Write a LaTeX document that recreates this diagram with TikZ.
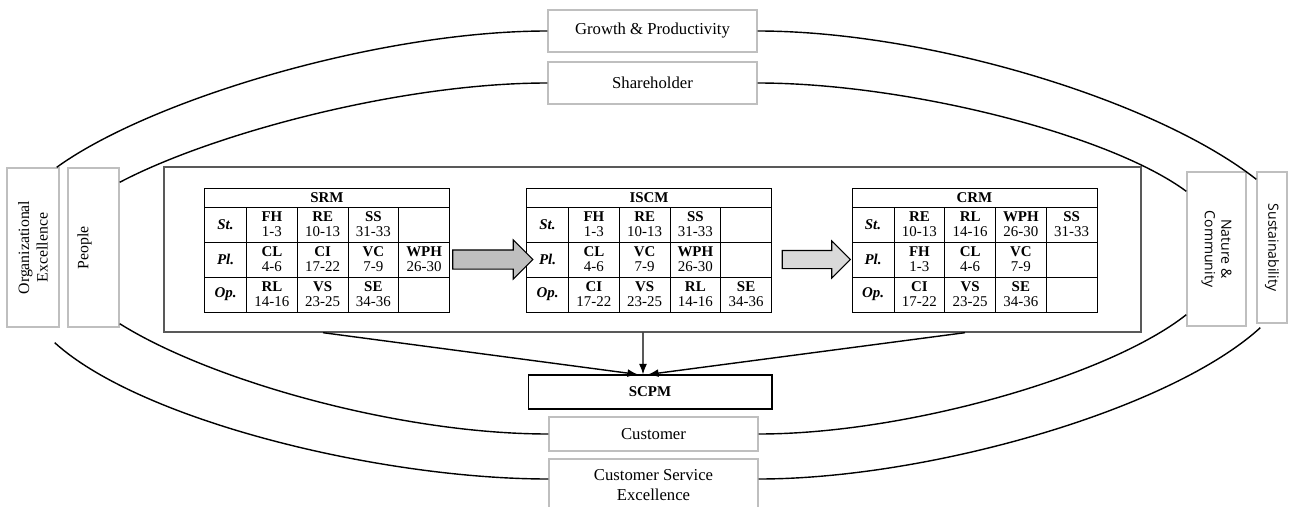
\documentclass[tikz,border=0pt]{standalone}
\usepackage{fontspec}
\setmainfont{Liberation Serif}
\newfontfamily\opensans{Open Sans}
\usetikzlibrary{shapes}
\usetikzlibrary{arrows.meta}
\usetikzlibrary{calc}
\usetikzlibrary{positioning}

% bold measure code over its item range
\newcommand{\kpi}[2]{\textbf{#1}\\#2}

\begin{document}
\begin{tikzpicture}
[x=0.02cm, y=-0.02cm,
pillar/.style    = {rectangle, draw=black!25, line width=0.8pt, inner sep=1pt, align=center, font=\fontsize{9.5}{11}\selectfont},
focus/.style     = {pillar, minimum width=4.18cm, minimum height=0.84cm},
side/.style      = {pillar, rotate=90, font=\fontsize{9}{10.5}\selectfont},
greenside/.style = {pillar, rotate=-90, font=\opensans\fontsize{8}{9.5}\selectfont},
hull/.style      = {draw=black!65, line width=0.8pt, minimum width=19.54cm, minimum height=3.3cm},
cell/.style      = {draw, line width=0.5pt, minimum width=1.015cm, minimum height=0.7cm, inner sep=0pt, align=center, font=\fontsize{8.5}{8.5}\selectfont},
lab/.style       = {cell, minimum width=0.84cm, font=\fontsize{8.5}{9}\selectfont\bfseries\itshape},
scoretable/.style = {matrix, inner sep=0pt, outer sep=0pt, column sep=-0.5pt, row sep=-0.5pt},
tabhead/.style   = {draw, line width=0.5pt, minimum width=4.9cm, minimum height=0.38cm, inner sep=0pt, font=\fontsize{8.5}{9}\selectfont\bfseries},
bigarrow/.style  = {single arrow, draw, line width=0.6pt, inner xsep=0pt, single arrow tip angle=90, single arrow head indent=0pt},
link/.style      = {draw, line width=0.8pt},
line/.style      = {draw, line width=0.8pt, -{Latex[length=6pt,width=4.5pt]}}
]
\useasboundingbox (0,0) rectangle (1289,507);
\clip (0,0) rectangle (1289,507);

% outer ring of perspectives
\node [focus] (growth) at (652.5,31) {Growth \& Productivity};
\node [focus] (share) at (652.5,83) {Shareholder};
\node [focus, minimum height=0.68cm] (cust) at (653.5,434) {Customer};
\node [focus, minimum height=1.04cm] (cse) at (653.5,485) {Customer Service\\Excellence};
\node [side, minimum width=3.18cm, minimum height=1.04cm] (orgexc) at (33,247.5) {Organizational\\Excellence};
\node [side, minimum width=3.18cm, minimum height=1.02cm, text depth=12pt] (people) at (93.5,247.5) {People};
\node [greenside, minimum width=3.08cm, minimum height=1.18cm] (nature) at (1216.5,249) {Nature \&\\Community};
\node [greenside, minimum width=3.02cm, minimum height=0.6cm] (sustain) at (1272,247.5) {Sustainability};

\node [hull] (frame) at (652.5,249.5) {};
\node [draw, line width=0.6pt, minimum width=4.88cm, minimum height=0.68cm, font=\fontsize{8.5}{9}\selectfont\bfseries] (scpm) at (650,392) {SCPM};

% process tables
\matrix (srm) [scoretable] at (327,259.5)
{
% row 1
\node [lab] {St.}; & \node [cell] {\kpi{FH}{1-3}}; & \node [cell] {\kpi{RE}{10-13}}; & \node [cell] {\kpi{SS}{31-33}}; & \node [cell] {}; \\
% row 2
\node [lab] {Pl.}; & \node [cell] {\kpi{CL}{4-6}}; & \node [cell] {\kpi{CI}{17-22}}; & \node [cell] {\kpi{VC}{7-9}}; & \node [cell] {\kpi{WPH}{26-30}}; \\
% row 3
\node [lab] {Op.}; & \node [cell] {\kpi{RL}{14-16}}; & \node [cell] {\kpi{VS}{23-25}}; & \node [cell] {\kpi{SE}{34-36}}; & \node [cell] {}; \\
};
\node [tabhead, above=-0.5pt of srm] (srm_head) {SRM};

\matrix (iscm) [scoretable] at (649,259.5)
{
% row 1
\node [lab] {St.}; & \node [cell] {\kpi{FH}{1-3}}; & \node [cell] {\kpi{RE}{10-13}}; & \node [cell] {\kpi{SS}{31-33}}; & \node [cell] {}; \\
% row 2
\node [lab] {Pl.}; & \node [cell] {\kpi{CL}{4-6}}; & \node [cell] {\kpi{VC}{7-9}}; & \node [cell] {\kpi{WPH}{26-30}}; & \node [cell] {}; \\
% row 3
\node [lab] {Op.}; & \node [cell] {\kpi{CI}{17-22}}; & \node [cell] {\kpi{VS}{23-25}}; & \node [cell] {\kpi{RL}{14-16}}; & \node [cell] {\kpi{SE}{34-36}}; \\
};
\node [tabhead, above=-0.5pt of iscm] (iscm_head) {ISCM};

\matrix (crm) [scoretable] at (974.5,259.5)
{
% row 1
\node [lab] {St.}; & \node [cell] {\kpi{RE}{10-13}}; & \node [cell] {\kpi{RL}{14-16}}; & \node [cell] {\kpi{WPH}{26-30}}; & \node [cell] {\kpi{SS}{31-33}}; \\
% row 2
\node [lab] {Pl.}; & \node [cell] {\kpi{FH}{1-3}}; & \node [cell] {\kpi{CL}{4-6}}; & \node [cell] {\kpi{VC}{7-9}}; & \node [cell] {}; \\
% row 3
\node [lab] {Op.}; & \node [cell] {\kpi{CI}{17-22}}; & \node [cell] {\kpi{VS}{23-25}}; & \node [cell] {\kpi{SE}{34-36}}; & \node [cell] {}; \\
};
\node [tabhead, above=-0.5pt of crm] (crm_head) {CRM};

% block arrows between the tables
\node [bigarrow, fill=black!25, inner ysep=0.18cm, minimum height=1.6cm, minimum width=0.76cm, single arrow head extend=0.2cm] (push1) at ($(srm.east)!0.5!(iscm.west)$) {};
\node [bigarrow, fill=black!15, inner ysep=0.17cm, minimum height=1.36cm, minimum width=0.72cm, single arrow head extend=0.19cm] (push2) at ($(iscm.east)!0.5!(crm.west)$) {};

\begin{scope}[every path/.style=line]
\path ([xshift=-6.59cm]frame.south) -- ([xshift=-0.24cm]scpm.north);
\path ([xshift=-0.19cm]frame.south) -- ([xshift=-0.14cm]scpm.north);
\path ([xshift=6.25cm]frame.south) -- ([xshift=-0.04cm]scpm.north);
\end{scope}

% ring arcs
\path [link] ($(orgexc.south east)+(-3,0)$) .. controls +(94,-68) and +(-168,0) .. (growth.west);
\path [link] (growth.east) .. controls +(168,0) and +(-102,-80) .. ($(sustain.south west)+(0,8)$);
\path [link] ($(people.south east)+(0,15)$) .. controls +(91,-48) and +(-148,0) .. (share.west);
\path [link] (share.east) .. controls +(148,0) and +(-77,-57) .. ($(nature.south west)+(0,20)$);
\path [link] ($(people.south west)+(0,-4)$) .. controls +(91,57) and +(-149,0) .. (cust.west);
\path [link] (cust.east) .. controls +(148,0) and +(-77,61) .. ($(nature.south east)+(0,-12)$);
\path [link] ($(orgexc.south west)+(-5,15)$) .. controls +(86,78) and +(-168,0) .. ($(cse.west)+(0,-6)$);
\path [link] ($(cse.east)+(0,-6)$) .. controls +(168,0) and +(-91,83) .. ($(sustain.south east)+(4,4)$);

\end{tikzpicture}
\end{document}
